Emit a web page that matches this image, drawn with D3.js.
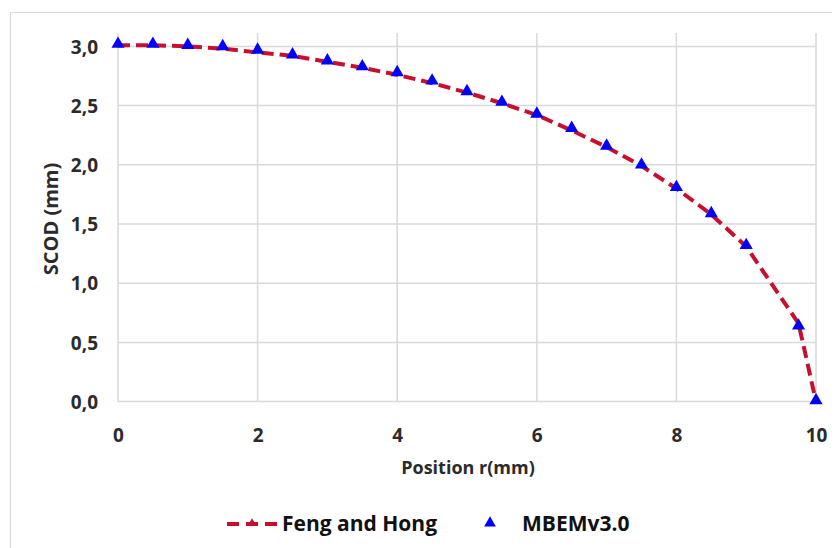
<!DOCTYPE html>
<html><head><meta charset="utf-8">
<script src="https://cdn.jsdelivr.net/npm/d3@7"></script>
<style>body{margin:0;background:#fff}svg{display:block}</style>
</head><body>
<svg id="c" width="837" height="548"></svg>
<script>
const positions = [0,0.5,1,1.5,2,2.5,3,3.5,4,4.5,5,5.5,6,6.5,7,7.5,8,8.5,9,9.75,10];
const fengHong = [3.01,3.01,3.00,2.98,2.95,2.92,2.87,2.82,2.76,2.69,2.61,2.52,2.42,2.29,2.15,1.99,1.80,1.58,1.31,0.66,0.0];
const mbem     = [3.02,3.02,3.01,3.00,2.97,2.93,2.88,2.83,2.78,2.71,2.62,2.53,2.43,2.31,2.16,2.00,1.81,1.59,1.32,0.64,0.01];
const xTicks = [0,2,4,6,8,10];
const yTicks = [0,0.5,1,1.5,2,2.5,3];
const seriesNames = ["Feng and Hong","MBEMv3.0"];
const xTitle = "Position r(mm)";
const yTitle = "SCOD (mm)";

const svg = d3.select("#c");
const font = "'Open Sans', 'Liberation Sans', sans-serif";
const m = {l:118, r:816, t:33, b:401.6};
const x = d3.scaleLinear().domain([0,10]).range([m.l, m.r]);
const y = d3.scaleLinear().domain([0,3]).range([m.b, 46.4]);

// outer frame (top & left visible)
svg.append("line").attr("x1",10).attr("x2",832).attr("y1",12.5).attr("y2",12.5).attr("stroke","#d9d9d9").attr("stroke-width",1.2);
svg.append("line").attr("x1",10.5).attr("x2",10.5).attr("y1",12).attr("y2",548).attr("stroke","#d9d9d9").attr("stroke-width",1.2);

// gridlines
const grid = svg.append("g");
grid.selectAll(".hx").data(yTicks).join("line")
  .attr("x1",m.l).attr("x2",m.r).attr("y1",d=>y(d)).attr("y2",d=>y(d))
  .attr("stroke","#d9d9d9").attr("stroke-width",1.5);
grid.selectAll(".vx").data(xTicks).join("line")
  .attr("x1",d=>x(d)).attr("x2",d=>x(d)).attr("y1",m.t).attr("y2",m.b)
  .attr("stroke","#d9d9d9").attr("stroke-width",1.5);

// axes (labels only)
const xAxis = svg.append("g").attr("transform",`translate(0,${m.b})`)
  .call(d3.axisBottom(x).tickValues(xTicks).tickSize(0).tickPadding(27).tickFormat(d3.format("d")));
const fmtY = d => d.toFixed(1).replace(".", ",");
const yAxis = svg.append("g").attr("transform",`translate(${m.l},0)`)
  .call(d3.axisLeft(y).tickValues(yTicks).tickSize(0).tickPadding(20).tickFormat(fmtY));
[xAxis,yAxis].forEach(a=>{
  a.select(".domain").remove();
  a.selectAll("text").attr("font-family",font).attr("font-weight","bold").attr("font-size",19).attr("fill","#2b2b2b");
});
yAxis.selectAll("text").attr("dy","0.35em");

// titles
svg.append("text").attr("x",468).attr("y",474).attr("text-anchor","middle")
  .attr("font-family",font).attr("font-weight","bold").attr("font-size",18).attr("fill","#2b2b2b").text(xTitle);
svg.append("text").attr("transform",`translate(58,219) rotate(-90)`).attr("text-anchor","middle")
  .attr("font-family",font).attr("font-weight","bold").attr("font-size",20).attr("fill","#2b2b2b").text(yTitle);

// line
const red = "#c8102e";
const lineGen = d3.line().x((d,i)=>x(positions[i])).y(d=>y(d));
svg.append("path").datum(fengHong).attr("d",lineGen).attr("fill","none")
  .attr("stroke",red).attr("stroke-width",4).attr("stroke-dasharray","12,6");

// markers
const tri = d3.symbol().type(d3.symbolTriangle).size(75);
svg.append("g").selectAll("path").data(mbem).join("path")
  .attr("transform",(d,i)=>`translate(${x(positions[i])},${y(d)})`)
  .attr("d",tri).attr("fill","#0000ff");

// legend
const lg = svg.append("g");
lg.append("line").attr("x1",227).attr("x2",277).attr("y1",524).attr("y2",524)
  .attr("stroke",red).attr("stroke-width",4).attr("stroke-dasharray","12,7");
lg.append("path").attr("transform","translate(252,523)").attr("d",d3.symbol().type(d3.symbolTriangle).size(30)).attr("fill",red);
lg.append("text").attr("x",282).attr("y",531).attr("font-family",font).attr("font-weight","bold").attr("font-size",21).attr("fill","#111").text(seriesNames[0]);
lg.append("path").attr("transform","translate(490,523)").attr("d",d3.symbol().type(d3.symbolTriangle).size(60)).attr("fill","#0000ff");
lg.append("text").attr("x",522).attr("y",531).attr("font-family",font).attr("font-weight","bold").attr("font-size",21).attr("fill","#111").text(seriesNames[1]);
</script>
</body></html>
